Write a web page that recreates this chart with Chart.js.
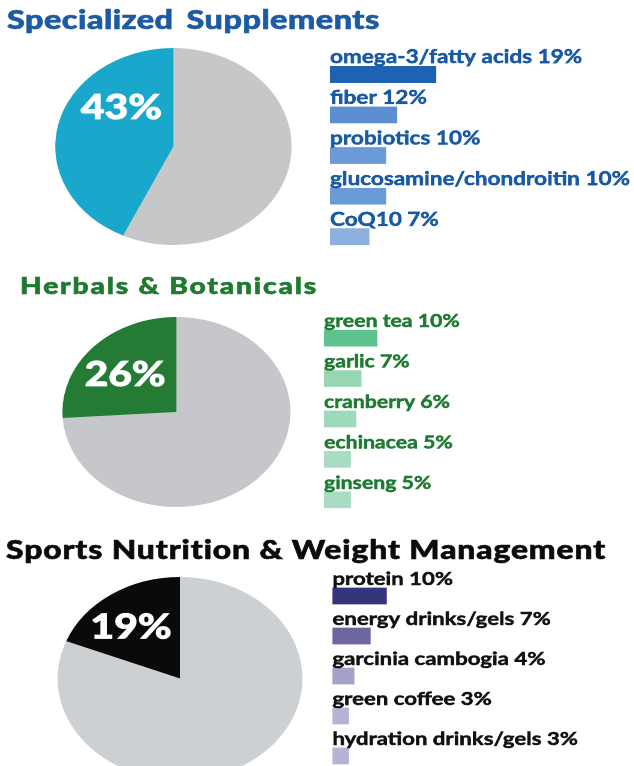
<!DOCTYPE html>
<html><head><meta charset="utf-8">
<script src="https://cdn.jsdelivr.net/npm/chart.js@4.4.1/dist/chart.umd.min.js"></script>
<style>
html,body{margin:0;padding:0;background:#fff;overflow:hidden;width:634px;height:766px;}
#wrap{position:absolute;left:0;top:0;width:528.33px;height:766px;transform:scaleX(1.2);transform-origin:0 0;}
.title{position:absolute;white-space:nowrap;font-family:Lato,"Open Sans",sans-serif;font-weight:900;line-height:1;-webkit-text-stroke:0.6px currentColor;}
canvas{position:absolute;}
</style></head><body>
<div id="wrap">
<div class="title" id="t1" style="left:5.8px;top:4.5px;font-size:27px;letter-spacing:0.4px;color:#1c5aa3;word-spacing:4px;"></div>
<div class="title" id="t2" style="left:16.7px;top:273.5px;font-size:23.5px;letter-spacing:1.5px;color:#1f7a30;"></div>
<div class="title" id="t3" style="left:5px;top:536.2px;font-size:26.5px;letter-spacing:0.75px;color:#0a0a0a;"></div>
<canvas id="p1"></canvas><canvas id="b1"></canvas>
<canvas id="p2"></canvas><canvas id="b2"></canvas>
<canvas id="p3"></canvas><canvas id="b3"></canvas>
</div>
<script>
// ---- data ----
const sectionTitles = ['Specialized Supplements', 'Herbals & Botanicals', 'Sports Nutrition & Weight Management'];
const pieShares = [43, 26, 19];
const supplementLabels = ['omega-3/fatty acids', 'fiber', 'probiotics', 'glucosamine/chondroitin', 'CoQ10'];
const supplementValues = [19, 12, 10, 10, 7];
const herbalLabels = ['green tea', 'garlic', 'cranberry', 'echinacea', 'ginseng'];
const herbalValues = [10, 7, 6, 5, 5];
const sportsLabels = ['protein', 'energy drinks/gels', 'garcinia cambogia', 'green coffee', 'hydration drinks/gels'];
const sportsValues = [10, 7, 4, 3, 3];

// ---- styles / layout ----
const sections = [
  { labels: supplementLabels, values: supplementValues,
    pie: { left: 46, top: 47.9, size: 197.2, color: '#19a8cc', rest: '#c6c7c9', lx: -0.44, ly: -0.39 },
    bar: { left: 275, top: 30.25, width: 253.3, height: 226.5, padTop: 24, xMax: 40, padRight: 67.3,
           colors: ['#1e62b4', '#5b8fd2', '#6b9bd6', '#6b9bd6', '#8cb0e0'], text: '#1a5aa3', font: 18.8 } },
  { labels: herbalLabels, values: herbalValues,
    pie: { left: 51.5, top: 317.1, size: 190.4, color: '#237b34', rest: '#c6c7ca', lx: -0.45, ly: -0.39 },
    bar: { left: 270, top: 293.75, width: 258.3, height: 226.5, padTop: 24, xMax: 40, padRight: 81.5,
           colors: ['#5ec28f', '#98d5b3', '#a0d8bb', '#a8dcc3', '#a8dcc3'], text: '#1f7a33', font: 17.7 } },
  { labels: sportsLabels, values: sportsValues,
    pie: { left: 48.3, top: 577, size: 203.4, color: '#0a0a0a', rest: '#cdd0d3', lx: -0.40, ly: -0.50 },
    bar: { left: 277.25, top: 551.8, width: 251, height: 224.25, padTop: 24, xMax: 40, padRight: 71,
           colors: ['#36347a', '#6b679f', '#a4a2c8', '#b5b3d6', '#b5b3d6'], text: '#111111', font: 18.5 } }
];

['t1', 't2', 't3'].forEach((id, i) => { document.getElementById(id).textContent = sectionTitles[i]; });

function place(cv, l, t, w, h) {
  cv.width = w; cv.height = h;
  cv.style.left = l + 'px'; cv.style.top = t + 'px';
  cv.style.width = w + 'px'; cv.style.height = h + 'px';
}

const pieLabelPlugin = {
  id: 'pieLabel',
  afterDatasetsDraw(chart, args, opts) {
    const arc = chart.getDatasetMeta(0).data[1];
    const ctx = chart.ctx;
    const r = arc.outerRadius;
    ctx.save();
    ctx.fillStyle = '#ffffff';
    ctx.strokeStyle = '#ffffff';
    ctx.lineWidth = 0.8;
    ctx.font = '900 34px Lato, sans-serif';
    ctx.textAlign = 'center';
    ctx.textBaseline = 'middle';
    const x = arc.x + opts.lx * r, y = arc.y + opts.ly * r;
    ctx.fillText(opts.text, x, y);
    ctx.strokeText(opts.text, x, y);
    ctx.restore();
  }
};

const barLabelPlugin = {
  id: 'barLabel',
  afterDatasetsDraw(chart, args, opts) {
    const meta = chart.getDatasetMeta(0);
    const ctx = chart.ctx;
    ctx.save();
    ctx.fillStyle = opts.color;
    ctx.strokeStyle = opts.color;
    ctx.lineWidth = 0.5;
    ctx.font = 'bold ' + opts.size + 'px Lato, sans-serif';
    ctx.textAlign = 'left';
    ctx.textBaseline = 'alphabetic';
    meta.data.forEach((bar, i) => {
      const txt = chart.data.labels[i] + ' ' + chart.data.datasets[0].data[i] + '%';
      const y = bar.y - bar.height / 2 - 3;
      ctx.fillText(txt, chart.chartArea.left, y);
      ctx.strokeText(txt, chart.chartArea.left, y);
    });
    ctx.restore();
  }
};

sections.forEach((s, i) => {
  const pc = document.getElementById('p' + (i + 1));
  place(pc, s.pie.left, s.pie.top, s.pie.size, s.pie.size);
  new Chart(pc, {
    type: 'pie',
    data: { labels: ['other', sectionTitles[i]],
            datasets: [{ data: [100 - pieShares[i], pieShares[i]], backgroundColor: [s.pie.rest, s.pie.color], borderWidth: 0 }] },
    options: { responsive: false, animation: false, devicePixelRatio: 2,
      layout: { padding: 0 },
      plugins: { legend: { display: false }, tooltip: { enabled: false },
                 pieLabel: { text: pieShares[i] + '%', lx: s.pie.lx, ly: s.pie.ly } } },
    plugins: [pieLabelPlugin]
  });

  const bc = document.getElementById('b' + (i + 1));
  place(bc, s.bar.left, s.bar.top, s.bar.width, s.bar.height);
  new Chart(bc, {
    type: 'bar',
    data: { labels: s.labels,
            datasets: [{ data: s.values, backgroundColor: s.bar.colors, borderWidth: 0, barThickness: 16 }] },
    options: { indexAxis: 'y', responsive: false, animation: false, devicePixelRatio: 2,
      layout: { padding: { top: s.bar.padTop, right: s.bar.padRight, left: 0, bottom: 0 } },
      scales: { x: { display: false, min: 0, max: s.bar.xMax }, y: { display: false } },
      plugins: { legend: { display: false }, tooltip: { enabled: false },
                 barLabel: { color: s.bar.text, size: s.bar.font } } },
    plugins: [barLabelPlugin]
  });
});
</script>
</body></html>
